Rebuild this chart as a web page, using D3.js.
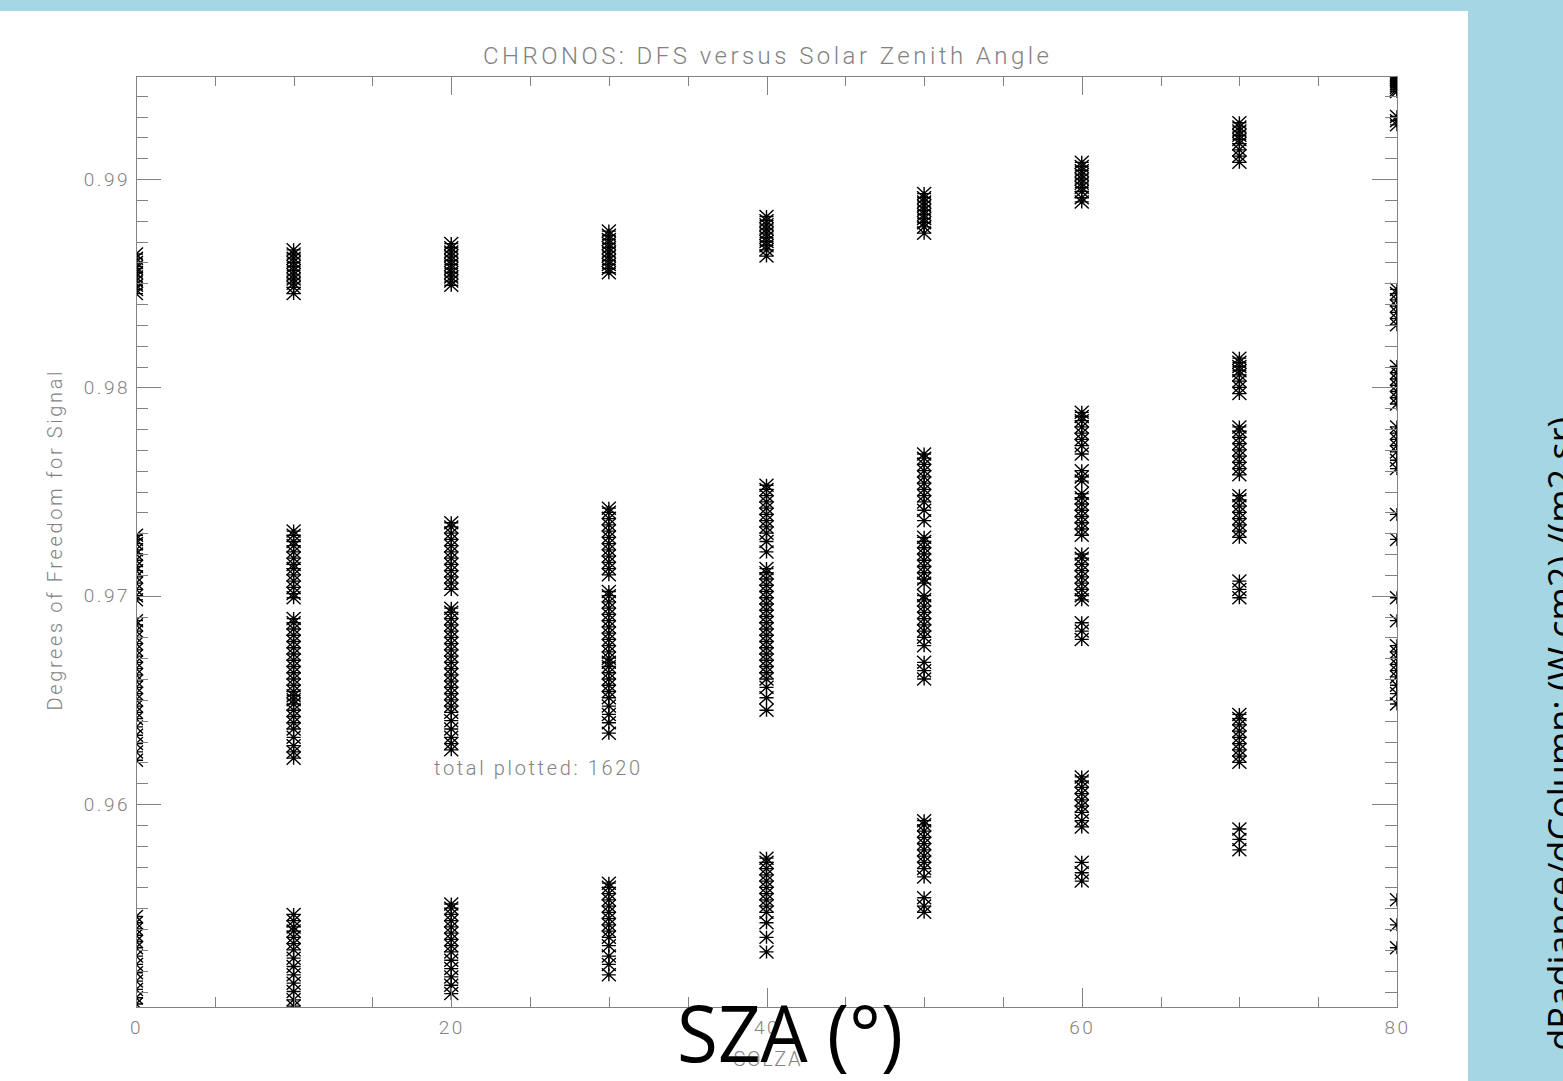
<!DOCTYPE html>
<html>
<head>
<meta charset="utf-8">
<script src="https://cdn.jsdelivr.net/npm/d3@7"></script>
<style>
  body { margin: 0; background: #a4d6e4; }
  svg { display: block; }
</style>
</head>
<body>
<svg id="chart" width="1563" height="1081"></svg>
<script>
// solar zenith angles (x) and DFS values
const szaValues = [0, 10, 20, 30, 40, 50, 60, 70, 80];

const dfs0 = [0.9864, 0.9862, 0.9860, 0.9858, 0.9857, 0.9855, 0.9853, 0.9851, 0.9849, 0.9847, 0.9845,
  0.9729, 0.9727, 0.9725, 0.9722, 0.9720, 0.9717, 0.9714, 0.9712, 0.9709, 0.9706, 0.9703, 0.9700, 0.9698,
  0.9688, 0.9686, 0.9683, 0.9680, 0.9677, 0.9674, 0.9671, 0.9668, 0.9665, 0.9662, 0.9659, 0.9656, 0.9653,
  0.9650, 0.9647, 0.9644, 0.9641, 0.9637, 0.9633, 0.9629, 0.9625, 0.9621,
  0.9546, 0.9543, 0.9540, 0.9537, 0.9534, 0.9531, 0.9527, 0.9523, 0.9519, 0.9515, 0.9511, 0.9507, 0.9504];
const dfs10 = [0.9866, 0.9864, 0.9862, 0.9860, 0.9858, 0.9856, 0.9854, 0.9852, 0.9850, 0.9848, 0.9845,
  0.9731, 0.9729, 0.9726, 0.9724, 0.9721, 0.9718, 0.9715, 0.9713, 0.9710, 0.9707, 0.9704, 0.9701, 0.9699,
  0.9689, 0.9687, 0.9684, 0.9681, 0.9678, 0.9675, 0.9672, 0.9669, 0.9666, 0.9663, 0.9660, 0.9657, 0.9654,
  0.9652, 0.9650, 0.9648, 0.9645, 0.9642, 0.9639, 0.9636, 0.9632, 0.9628, 0.9625, 0.9622,
  0.9547, 0.9544, 0.9541, 0.9539, 0.9536, 0.9533, 0.9530, 0.9526, 0.9522, 0.9518, 0.9514, 0.9510, 0.9506, 0.9503];
const dfs20 = [0.9869, 0.9867, 0.9865, 0.9863, 0.9861, 0.9859, 0.9857, 0.9855, 0.9853, 0.9851, 0.9849,
  0.9735, 0.9733, 0.9730, 0.9727, 0.9724, 0.9721, 0.9718, 0.9715, 0.9712, 0.9709, 0.9706, 0.9703,
  0.9694, 0.9692, 0.9689, 0.9686, 0.9683, 0.9680, 0.9677, 0.9674, 0.9671, 0.9668, 0.9665, 0.9662, 0.9659,
  0.9656, 0.9653, 0.9650, 0.9647, 0.9644, 0.9640, 0.9636, 0.9632, 0.9629, 0.9626,
  0.9552, 0.9550, 0.9547, 0.9544, 0.9541, 0.9538, 0.9535, 0.9532, 0.9529, 0.9525, 0.9521, 0.9517, 0.9513, 0.9509];
const dfs30 = [0.9875, 0.9873, 0.9871, 0.9869, 0.9867, 0.9865, 0.9863, 0.9861, 0.9859, 0.9857, 0.9855,
  0.9742, 0.9740, 0.9737, 0.9734, 0.9731, 0.9728, 0.9725, 0.9722, 0.9719, 0.9716, 0.9713, 0.9710,
  0.9702, 0.9700, 0.9697, 0.9694, 0.9691, 0.9688, 0.9685, 0.9682, 0.9679, 0.9676, 0.9673, 0.9670, 0.9668,
  0.9666, 0.9663, 0.9660, 0.9657, 0.9654, 0.9651, 0.9647, 0.9643, 0.9639, 0.9634,
  0.9562, 0.9560, 0.9557, 0.9554, 0.9551, 0.9548, 0.9545, 0.9542, 0.9539, 0.9536, 0.9532, 0.9527, 0.9523, 0.9518];
const dfs40 = [0.9882, 0.9880, 0.9878, 0.9876, 0.9874, 0.9872, 0.9870, 0.9868, 0.9866, 0.9863,
  0.9753, 0.9751, 0.9748, 0.9745, 0.9742, 0.9739, 0.9736, 0.9733, 0.9730, 0.9726, 0.9721,
  0.9713, 0.9711, 0.9708, 0.9705, 0.9702, 0.9699, 0.9696, 0.9693, 0.9690, 0.9687, 0.9684, 0.9681, 0.9678,
  0.9675, 0.9672, 0.9669, 0.9666, 0.9663, 0.9660, 0.9656, 0.9651, 0.9645,
  0.9574, 0.9572, 0.9569, 0.9566, 0.9563, 0.9560, 0.9557, 0.9554, 0.9551, 0.9548, 0.9543, 0.9536, 0.9529];
const dfs50 = [0.9893, 0.9891, 0.9889, 0.9887, 0.9885, 0.9883, 0.9881, 0.9879, 0.9877, 0.9874,
  0.9768, 0.9766, 0.9763, 0.9760, 0.9757, 0.9754, 0.9751, 0.9748, 0.9745, 0.9741, 0.9736,
  0.9728, 0.9726, 0.9723, 0.9720, 0.9717, 0.9714, 0.9711, 0.9708, 0.9706,
  0.9700, 0.9698, 0.9695, 0.9692, 0.9689, 0.9686, 0.9683, 0.9680, 0.9676,
  0.9668, 0.9664, 0.9660,
  0.9592, 0.9590, 0.9587, 0.9584, 0.9581, 0.9578, 0.9575, 0.9572, 0.9569, 0.9565,
  0.9555, 0.9551, 0.9548];
const dfs60 = [0.9908, 0.9906, 0.9904, 0.9902, 0.9900, 0.9898, 0.9896, 0.9894, 0.9891, 0.9889,
  0.9788, 0.9786, 0.9784, 0.9781, 0.9778, 0.9775, 0.9772, 0.9768,
  0.9760, 0.9757, 0.9755,
  0.9749, 0.9747, 0.9744, 0.9741, 0.9738, 0.9735, 0.9732, 0.9729,
  0.9720, 0.9718, 0.9715, 0.9712, 0.9709, 0.9706, 0.9703, 0.9700, 0.9698,
  0.9687, 0.9683, 0.9679,
  0.9613, 0.9611, 0.9608, 0.9605, 0.9602, 0.9599, 0.9596, 0.9592, 0.9589,
  0.9572, 0.9567, 0.9563];
const dfs70 = [0.9927, 0.9925, 0.9923, 0.9921, 0.9919, 0.9917, 0.9914, 0.9911, 0.9908,
  0.9814, 0.9812, 0.9810, 0.9808, 0.9806, 0.9803, 0.9800, 0.9797,
  0.9781, 0.9779, 0.9776, 0.9773, 0.9770, 0.9767, 0.9764, 0.9761, 0.9758,
  0.9748, 0.9746, 0.9743, 0.9740, 0.9737, 0.9734, 0.9731, 0.9728,
  0.9707, 0.9703, 0.9699,
  0.9643, 0.9641, 0.9638, 0.9635, 0.9632, 0.9629, 0.9626, 0.9623, 0.9620,
  0.9588, 0.9583, 0.9578];
const dfs80 = [0.9950, 0.9949, 0.9948, 0.9947, 0.9946, 0.9945, 0.9944, 0.9943, 0.9942, 0.9930, 0.9928, 0.9926,
  0.9847, 0.9845, 0.9842, 0.9839, 0.9836, 0.9833, 0.9830,
  0.9810, 0.9807, 0.9804, 0.9801, 0.9798, 0.9795, 0.9792,
  0.9781, 0.9778, 0.9775, 0.9772, 0.9769, 0.9765, 0.9761,
  0.9739, 0.9727, 0.9699, 0.9688,
  0.9676, 0.9673, 0.9670, 0.9667, 0.9664, 0.9661, 0.9657, 0.9653, 0.9648,
  0.9554, 0.9542, 0.9531];
const dfsBySza = [dfs0, dfs10, dfs20, dfs30, dfs40, dfs50, dfs60, dfs70, dfs80];

const xMajorTicks = [0, 20, 40, 60, 80];
const xMinorTicks = [5, 10, 15, 25, 30, 35, 45, 50, 55, 65, 70, 75];
const yMajorTicks = [0.96, 0.97, 0.98, 0.99];
const yMinorTicks = [0.951, 0.952, 0.953, 0.954, 0.955, 0.956, 0.957, 0.958, 0.959,
  0.961, 0.962, 0.963, 0.964, 0.965, 0.966, 0.967, 0.968, 0.969,
  0.971, 0.972, 0.973, 0.974, 0.975, 0.976, 0.977, 0.978, 0.979,
  0.981, 0.982, 0.983, 0.984, 0.985, 0.986, 0.987, 0.988, 0.989,
  0.991, 0.992, 0.993, 0.994];

const svg = d3.select("#chart");
const plot = {left: 136, right: 1397, top: 76, bottom: 1007};
const grey = "#828282";
const labelFont = "Roboto, 'Liberation Sans', sans-serif";

// slide backdrop
svg.append("rect").attr("width", 1563).attr("height", 1081).attr("fill", "#a4d6e4");
svg.append("rect").attr("x", 0).attr("y", 11).attr("width", 1468).attr("height", 1070).attr("fill", "#fff");

const x = d3.scaleLinear().domain([0, 80]).range([plot.left, plot.right]);
const y = d3.scaleLinear().domain([0.950256, 0.994944]).range([plot.bottom, plot.top]);

svg.append("defs").append("clipPath").attr("id", "plotClip")
  .append("rect")
  .attr("x", plot.left).attr("y", plot.top)
  .attr("width", plot.right - plot.left).attr("height", plot.bottom - plot.top);

// points, drawn as IDL asterisks
const points = szaValues.flatMap((s, i) => dfsBySza[i].map(v => ({sza: s, dfs: v})));
const star = "M-7,0H7M0,-6.5V6.5M-7,-6.5L7,6.5M-7,6.5L7,-6.5";

svg.append("g").attr("class", "points").attr("clip-path", "url(#plotClip)")
  .selectAll("path").data(points).enter().append("path")
  .attr("d", star)
  .attr("transform", d => `translate(${x(d.sza)},${y(d.dfs)})`)
  .attr("fill", "none")
  .attr("stroke", "#000")
  .attr("stroke-width", 1.4);

// IDL style box axes, ticks pointing inward
function styleAxis(g, showLabels) {
  g.select(".domain").attr("stroke", grey);
  g.selectAll(".tick line").attr("stroke", grey);
  g.selectAll(".tick text")
    .attr("fill", grey)
    .style("font-family", labelFont)
    .style("font-weight", 300)
    .style("font-size", "19px")
    .style("letter-spacing", "2.5px")
    .style("display", showLabels ? null : "none");
  g.attr("shape-rendering", "crispEdges");
}

svg.append("g").attr("transform", `translate(0,${plot.bottom})`)
  .call(d3.axisBottom(x).tickValues(xMinorTicks).tickSize(-10).tickSizeOuter(0).tickFormat(""))
  .call(g => styleAxis(g, false));
svg.append("g").attr("transform", `translate(0,${plot.bottom})`)
  .call(d3.axisBottom(x).tickValues(xMajorTicks).tickSize(-19).tickSizeOuter(0).tickPadding(14).tickFormat(d3.format("d")))
  .call(g => styleAxis(g, true));
svg.append("g").attr("transform", `translate(0,${plot.top})`)
  .call(d3.axisTop(x).tickValues(xMinorTicks).tickSize(-10).tickSizeOuter(0).tickFormat(""))
  .call(g => styleAxis(g, false));
svg.append("g").attr("transform", `translate(0,${plot.top})`)
  .call(d3.axisTop(x).tickValues(xMajorTicks).tickSize(-19).tickSizeOuter(0).tickFormat(""))
  .call(g => styleAxis(g, false));

svg.append("g").attr("transform", `translate(${plot.left},0)`)
  .call(d3.axisLeft(y).tickValues(yMinorTicks).tickSize(-12).tickSizeOuter(0).tickFormat(""))
  .call(g => styleAxis(g, false));
svg.append("g").attr("transform", `translate(${plot.left},0)`)
  .call(d3.axisLeft(y).tickValues(yMajorTicks).tickSize(-25).tickSizeOuter(0).tickPadding(6).tickFormat(d3.format(".2f")))
  .call(g => styleAxis(g, true));
svg.append("g").attr("transform", `translate(${plot.right},0)`)
  .call(d3.axisRight(y).tickValues(yMinorTicks).tickSize(-12).tickSizeOuter(0).tickFormat(""))
  .call(g => styleAxis(g, false));
svg.append("g").attr("transform", `translate(${plot.right},0)`)
  .call(d3.axisRight(y).tickValues(yMajorTicks).tickSize(-25).tickSizeOuter(0).tickFormat(""))
  .call(g => styleAxis(g, false));

// plot texts (grey IDL annotations)
function greyText(txt, px, py, len, size) {
  return svg.append("text")
    .attr("x", px).attr("y", py)
    .attr("text-anchor", "middle")
    .attr("textLength", len).attr("lengthAdjust", "spacing")
    .attr("fill", grey)
    .style("font-family", labelFont)
    .style("font-weight", 300)
    .style("font-size", size + "px")
    .text(txt);
}
greyText("CHRONOS: DFS versus Solar Zenith Angle", 766, 64, 566, 24);
greyText("total plotted: 1620", 537, 775, 206, 20);
greyText("SOLZA", 767, 1066, 67, 20);
greyText("Degrees of Freedom for Signal", 0, 0, 339, 20)
  .attr("transform", "translate(62,541) rotate(-90)");

// slide overlay labels
svg.append("text")
  .attr("x", 790).attr("y", 1062)
  .attr("text-anchor", "middle")
  .attr("textLength", 226).attr("lengthAdjust", "spacingAndGlyphs")
  .attr("fill", "#000")
  .style("font-family", "'Open Sans', 'Noto Sans', sans-serif")
  .style("font-size", "78px")
  .text("SZA (°)");

svg.append("text")
  .attr("transform", "translate(1574,417) rotate(-90)")
  .attr("text-anchor", "end")
  .attr("fill", "#000")
  .style("font-family", "'Open Sans', 'Noto Sans', sans-serif")
  .style("font-size", "36px")
  .text("dRadiance/dColumn: (W cm2) /(m2 sr)");
</script>
</body>
</html>
